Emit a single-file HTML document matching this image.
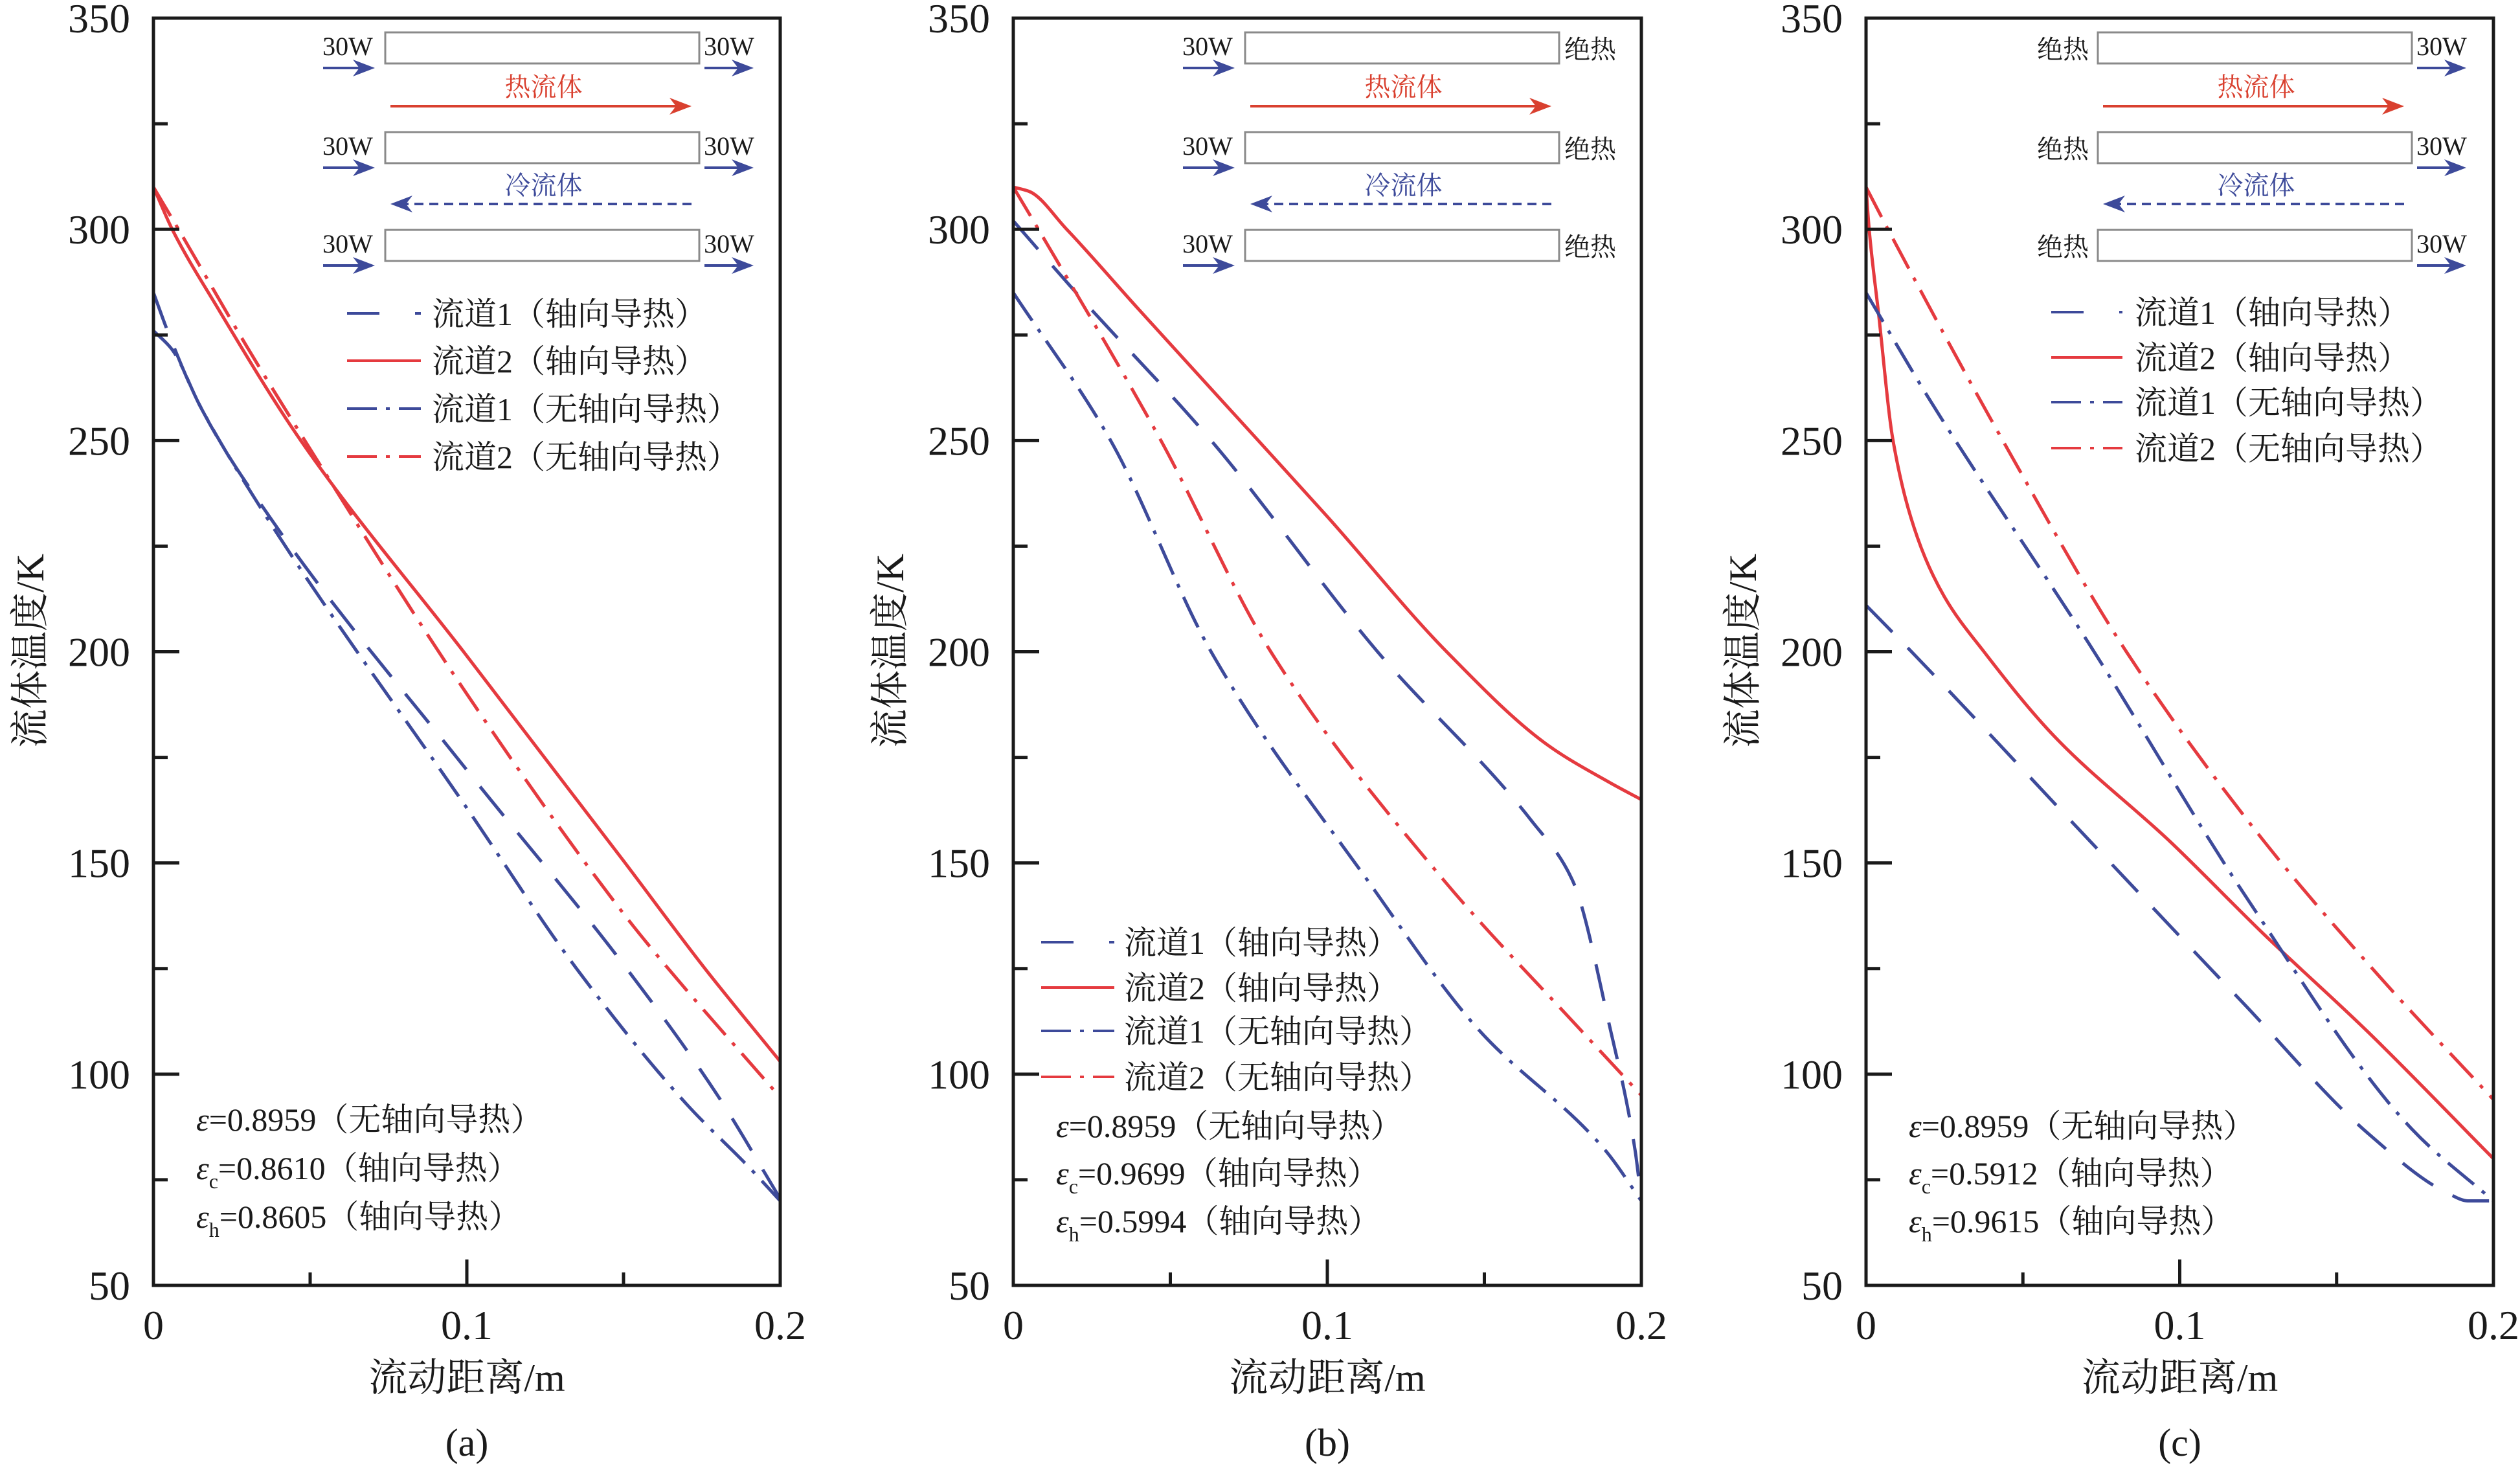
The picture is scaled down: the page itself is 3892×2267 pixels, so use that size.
<!DOCTYPE html>
<html><head><meta charset="utf-8">
<style>
html,body{margin:0;padding:0;background:#fff;}
svg{display:block;}
text{font-family:"Liberation Serif","Noto Serif CJK SC",serif;fill:#1a1a1a;}
</style></head>
<body>
<svg id="fig" width="3892" height="2267" viewBox="0 0 3892 2267" xmlns="http://www.w3.org/2000/svg"></svg>
<script>
// ---------- data (x in m, y in K) ----------
const xTicks = [0, 0.1, 0.2];
const yTicks = [350, 300, 250, 200, 150, 100, 50];

// panel (a)
const aX_ch1Axial = [0, 0.005, 0.015, 0.037, 0.1, 0.151, 0.18, 0.2];
const aY_ch1Axial = [285, 275, 258, 232, 172, 125, 95, 70.5];
const aX_ch2Axial = [0, 0.006, 0.02, 0.047, 0.1, 0.15, 0.176, 0.2];
const aY_ch2Axial = [310, 300, 282, 250, 199, 150.5, 125, 103];
const aX_ch1None = [0, 0.006, 0.015, 0.036, 0.1, 0.135, 0.17, 0.19, 0.2];
const aY_ch1None = [276, 271.5, 258, 232, 163, 125, 93, 78, 70];
const aX_ch2None = [0, 0.008, 0.03, 0.05, 0.1, 0.15, 0.162, 0.2];
const aY_ch2None = [310, 300, 272, 248, 190, 138, 127, 94.5];

// panel (b)
const bX_ch1Axial = [0, 0.02, 0.063, 0.116, 0.165, 0.178, 0.19, 0.198, 0.2];
const bY_ch1Axial = [302, 285, 250, 200, 160, 146, 111, 82, 70];
const bX_ch2Axial = [0, 0.005, 0.017, 0.04, 0.078, 0.1, 0.138, 0.17, 0.19, 0.2];
const bY_ch2Axial = [310, 309, 300, 281, 250, 232, 200, 178, 169, 165];
const bX_ch1None = [0, 0.031, 0.063, 0.1127, 0.1476, 0.1885, 0.2];
const bY_ch1None = [285, 250, 200, 146, 111, 82, 70];
const bX_ch2None = [0, 0.008, 0.047, 0.082, 0.137, 0.18, 0.2];
const bY_ch2None = [310, 300, 250, 200, 146, 111, 95];

// panel (c)
const cX_ch1Axial = [0, 0.0145, 0.0716, 0.12, 0.16, 0.185, 0.192, 0.2];
const cY_ch1Axial = [211, 200, 155, 117, 86, 72, 70, 70];
const cX_ch2Axial = [0, 0.001, 0.004, 0.0086, 0.0164, 0.025, 0.0376, 0.06, 0.097, 0.127, 0.16, 0.2];
const cY_ch2Axial = [310, 300, 280, 250, 227, 213, 200, 180, 155, 133, 110, 80];
const cX_ch1None = [0, 0.02, 0.071, 0.122, 0.174, 0.2];
const cY_ch1None = [285, 260, 202, 141, 87, 70];
const cX_ch2None = [0, 0.007, 0.0436, 0.083, 0.127, 0.165, 0.2];
const cY_ch2None = [310, 300, 250, 200, 155, 122, 94];

const legendLabels = ['流道1（轴向导热）', '流道2（轴向导热）', '流道1（无轴向导热）', '流道2（无轴向导热）'];
const effA = ['0.8959', '0.8610', '0.8605'];
const effB = ['0.8959', '0.9699', '0.5994'];
const effC = ['0.8959', '0.5912', '0.9615'];

// ---------- drawing ----------
const NS = 'http://www.w3.org/2000/svg';
const svg = document.getElementById('fig');
const BLUE = '#3d4a9a', RED = '#e53a3f';
const TOP = 28, BOT = 1985;
function mk(tag, attrs, parent) {
  const e = document.createElementNS(NS, tag);
  for (const k in attrs) e.setAttribute(k, attrs[k]);
  (parent || svg).appendChild(e);
  return e;
}
function txt(str, attrs, parent) { const t = mk('text', attrs, parent); t.textContent = str; return t; }
const styles = [
  {c: BLUE, d: '58 34'},
  {c: RED, d: ''},
  {c: BLUE, d: '52 16 6 16'},
  {c: RED, d: '52 16 6 16'}
];
function pathFrom(pts) {
  const n = pts.length;
  const dx = [], m = [], t = [];
  for (let i = 0; i < n - 1; i++) { dx[i] = pts[i + 1][0] - pts[i][0]; m[i] = (pts[i + 1][1] - pts[i][1]) / dx[i]; }
  t[0] = m[0]; t[n - 1] = m[n - 2];
  for (let i = 1; i < n - 1; i++) {
    if (m[i - 1] * m[i] <= 0) t[i] = 0;
    else { const w1 = 2 * dx[i] + dx[i - 1], w2 = dx[i] + 2 * dx[i - 1]; t[i] = (w1 + w2) / (w1 / m[i - 1] + w2 / m[i]); }
  }
  let d = 'M' + pts[0][0].toFixed(1) + ',' + pts[0][1].toFixed(1);
  for (let i = 0; i < n - 1; i++) {
    const h = dx[i] / 3;
    d += ' C' + (pts[i][0] + h).toFixed(1) + ',' + (pts[i][1] + t[i] * h).toFixed(1) + ' ' +
      (pts[i + 1][0] - h).toFixed(1) + ',' + (pts[i + 1][1] - t[i + 1] * h).toFixed(1) + ' ' +
      pts[i + 1][0].toFixed(1) + ',' + pts[i + 1][1].toFixed(1);
  }
  return d;
}
function arrow(g, x1, x2, y, color, dashed) {
  const dir = x2 > x1 ? 1 : -1;
  mk('line', {x1: x1, y1: y, x2: x2 - dir * 20, y2: y, stroke: color, 'stroke-width': 4, 'stroke-dasharray': dashed ? '14 9' : ''}, g);
  mk('path', {d: `M${x2},${y} L${x2 - dir * 34},${y - 13} L${x2 - dir * 24},${y} L${x2 - dir * 34},${y + 13} Z`, fill: color}, g);
}

function panel(id, L, R, series, mode, legend, eff, letter) {
  const g = mk('g', {});
  
  
  const sx = v => L + (v / 0.2) * (R - L);
  const sy = v => TOP + (350 - v) / 300 * (BOT - TOP);
  const sg = mk('g', {}, g);
  const names = ['ch1-axial', 'ch2-axial', 'ch1-no-axial', 'ch2-no-axial'];
  series.forEach((s, i) => {
    const pts = s[0].map((x, j) => [sx(x), sy(s[1][j])]);
    const p = mk('path', {d: pathFrom(pts), fill: 'none', stroke: styles[i].c, 'stroke-width': 5, 'stroke-dasharray': styles[i].d}, sg);
    
    
  });
  const fr = mk('rect', {x: L, y: TOP, width: R - L, height: BOT - TOP, fill: 'none', stroke: '#1a1a1a', 'stroke-width': 5}, g);
  
  
  for (let v = 75; v <= 325; v += 25) {
    const major = v % 50 === 0;
    mk('line', {x1: L, y1: sy(v), x2: L + (major ? 40 : 22), y2: sy(v), stroke: '#1a1a1a', 'stroke-width': 5}, g);
  }
  yTicks.forEach(v => {
    const t = txt(String(v), {x: L - 36, y: sy(v) + 22, 'font-size': 64, 'text-anchor': 'end'}, g);
    
    
  });
  [0.05, 0.1, 0.15].forEach(v => {
    mk('line', {x1: sx(v), y1: BOT, x2: sx(v), y2: BOT - (v === 0.1 ? 40 : 20), stroke: '#1a1a1a', 'stroke-width': 5}, g);
  });
  xTicks.forEach(v => {
    const t = txt(String(v), {x: sx(v), y: 2068, 'font-size': 64, 'text-anchor': 'middle'}, g);
    
    
  });
  const xt = txt('流动距离/m', {x: (L + R) / 2, y: 2148, 'font-size': 60, 'text-anchor': 'middle'}, g);
  
  
  const yl = txt('流体温度/K', {x: 0, y: 0, 'font-size': 60, 'text-anchor': 'middle', transform: `translate(${L - 170},1005) rotate(-90)`}, g);
  
  
  const cap = txt('(' + letter + ')', {x: (L + R) / 2, y: 2248, 'font-size': 60, 'text-anchor': 'middle'}, g);
  
  

  const sc = mk('g', {}, g);
  
  
  const bx1 = L + 358, bx2 = L + 843;
  const boxY = [50, 204, 355];
  boxY.forEach(y => mk('rect', {x: bx1, y: y, width: bx2 - bx1, height: 48, fill: 'none', stroke: '#8a8a8a', 'stroke-width': 3}, sc));
  boxY.forEach(y => {
    if (mode === 'a' || mode === 'b') {
      txt('30W', {x: bx1 - 58, y: y + 35, 'font-size': 40, 'text-anchor': 'middle'}, sc);
      arrow(sc, bx1 - 96, bx1 - 16, y + 55, BLUE, false);
    } else {
      txt('绝热', {x: bx1 - 14, y: y + 40, 'font-size': 40, 'text-anchor': 'end'}, sc);
    }
    if (mode === 'a' || mode === 'c') {
      txt('30W', {x: bx2 + 46, y: y + 35, 'font-size': 40, 'text-anchor': 'middle'}, sc);
      arrow(sc, bx2 + 8, bx2 + 84, y + 55, BLUE, false);
    } else {
      txt('绝热', {x: bx2 + 8, y: y + 40, 'font-size': 40}, sc);
    }
  });
  txt('热流体', {x: (bx1 + bx2) / 2 + 2, y: 148, 'font-size': 40, 'text-anchor': 'middle', style: 'fill:#d9402f'}, sc);
  arrow(sc, bx1 + 8, bx2 - 12, 164, '#d9402f', false);
  txt('冷流体', {x: (bx1 + bx2) / 2 + 2, y: 300, 'font-size': 40, 'text-anchor': 'middle', style: 'fill:' + BLUE}, sc);
  arrow(sc, bx2 - 12, bx1 + 8, 315, BLUE, true);

  const lg = mk('g', {}, g);
  
  
  legend.rows.forEach((y, i) => {
    mk('line', {x1: L + legend.x1, y1: y, x2: L + legend.x2, y2: y, stroke: styles[i].c, 'stroke-width': 4, 'stroke-dasharray': i === 0 ? '50 55 30' : (i === 1 ? '' : '46 14 6 14')}, lg);
    const t = txt(legendLabels[i], {x: L + legend.tx, y: y + 18, 'font-size': legend.fs}, lg);
    
    
  });

  const an = mk('g', {}, g);
  
  
  const ax = L + 66;
  const subs = ['', 'c', 'h'];
  const tails = ['（无轴向导热）', '（轴向导热）', '（轴向导热）'];
  eff.rows.forEach((y, i) => {
    const t = mk('text', {x: ax, y: y + 18, 'font-size': 50}, an);
    const e1 = mk('tspan', {'font-style': 'italic'}, t); e1.textContent = 'ε';
    if (subs[i]) { const s = mk('tspan', {'font-size': 32, dy: 14}, t); s.textContent = subs[i]; }
    const r = mk('tspan', subs[i] ? {dy: -14} : {}, t); r.textContent = '=' + eff.vals[i] + tails[i];
  });
}

panel('a', 237, 1205,
  [[aX_ch1Axial, aY_ch1Axial], [aX_ch2Axial, aY_ch2Axial], [aX_ch1None, aY_ch1None], [aX_ch2None, aY_ch2None]],
  'a', {rows: [484, 557, 631, 705], x1: 299, x2: 413, tx: 430, fs: 50}, {rows: [1728, 1803, 1878], vals: effA}, 'a');
panel('b', 1565, 2535,
  [[bX_ch1Axial, bY_ch1Axial], [bX_ch2Axial, bY_ch2Axial], [bX_ch1None, bY_ch1None], [bX_ch2None, bY_ch2None]],
  'b', {rows: [1455, 1525, 1592, 1663], x1: 43, x2: 156, tx: 171, fs: 50}, {rows: [1738, 1811, 1885], vals: effB}, 'b');
panel('c', 2882, 3851,
  [[cX_ch1Axial, cY_ch1Axial], [cX_ch2Axial, cY_ch2Axial], [cX_ch1None, cY_ch1None], [cX_ch2None, cY_ch2None]],
  'c', {rows: [482, 552, 621, 692], x1: 286, x2: 396, tx: 415, fs: 50}, {rows: [1738, 1811, 1885], vals: effC}, 'c');
</script>
</body></html>
